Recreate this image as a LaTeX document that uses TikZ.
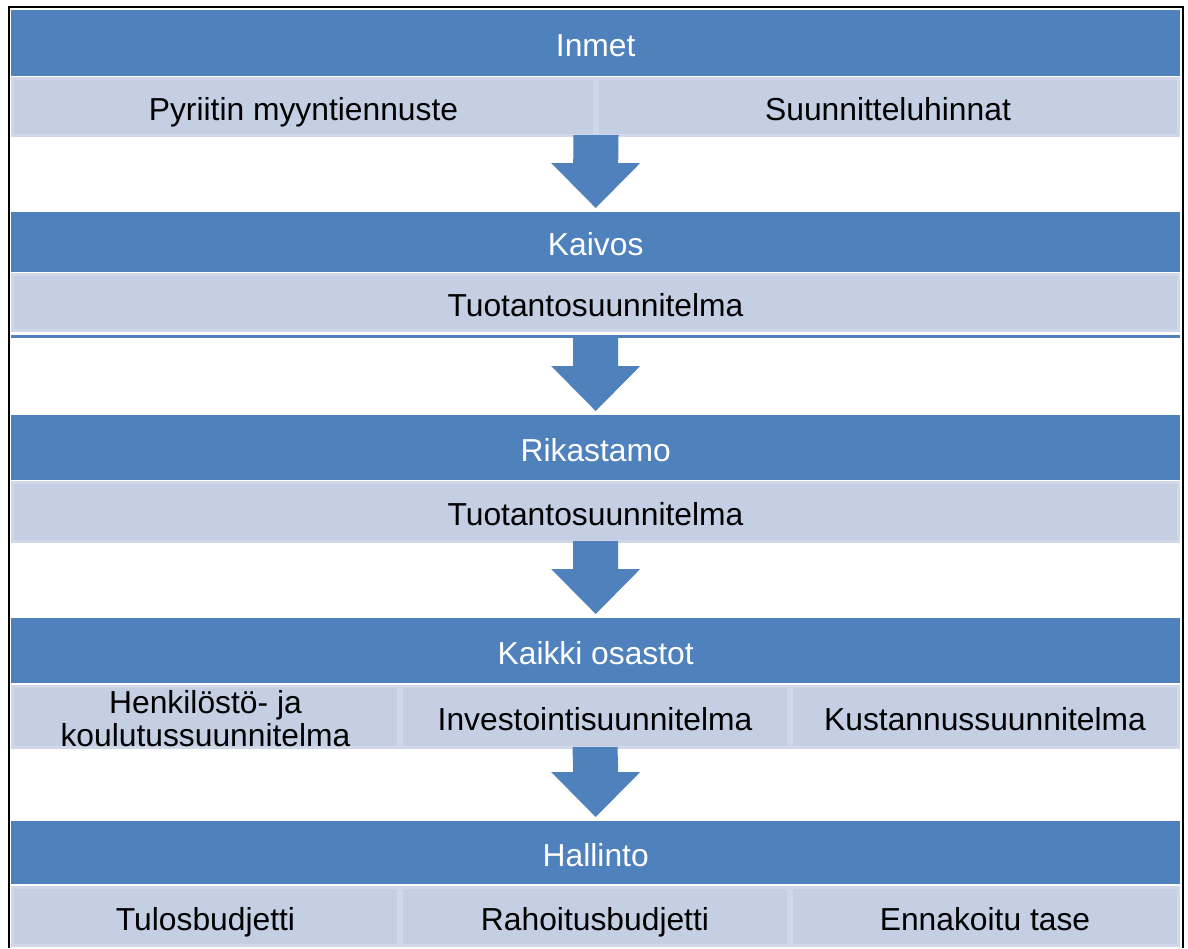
\documentclass[tikz,border=0pt]{standalone}
\usepackage{fontspec}
\setmainfont{Liberation Sans}
\usetikzlibrary{calc}
\definecolor{bandblue}{HTML}{4F81BD}
\definecolor{cellfill}{HTML}{C4CFE3}
\definecolor{cellline}{HTML}{CFD7E8}
% block arrow from a source point down to the top of a target band
\newcommand\flowarrow[2]{%
  \fill[bandblue] ($(#1)+(-22.5,-2)$) -- ($(#2.north)+(-22.5,-49)$)
    -- ($(#2.north)+(-44.5,-49)$) -- ($(#2.north)+(0,-4)$)
    -- ($(#2.north)+(44.5,-49)$) -- ($(#2.north)+(22.5,-49)$)
    -- ($(#1)+(22.5,-2)$) -- cycle;}
\begin{document}
\begin{tikzpicture}[x=1pt,y=-1pt,
  txt/.style={font=\fontsize{31.8}{33}\selectfont, text height=28pt, text depth=1pt},
  band/.style={txt, fill=bandblue, text=white, inner sep=0pt, anchor=north west,
    minimum width=1169pt},
  cell/.style={txt, fill=cellfill, draw=cellline, line width=3pt, inner sep=0pt,
    align=center, text=black}]
\useasboundingbox (0,0) rectangle (1188,948);
\fill[white] (0,0) rectangle (1188,948);

% stage 1
\node[band, minimum height=66pt] (b1) at (11,10) {Inmet};
\node[cell, minimum width=582pt, minimum height=57pt] (l1a) at (303.5,107) {Pyriitin myyntiennuste};
\node[cell, minimum width=581pt, minimum height=57pt] (l1b) at (888,107) {Suunnitteluhinnat};

% stage 2
\node[band, minimum height=60pt] (b2) at (11,212) {Kaivos};
\node[cell, minimum width=1166pt, minimum height=56pt] (l2) at (595.5,302.5) {Tuotantosuunnitelma};
\fill[bandblue] (11,335) rectangle (1180,338);

% stage 3
\node[band, minimum height=65pt] (b3) at (11,415) {Rikastamo};
\node[cell, minimum width=1166pt, minimum height=59pt] (l3) at (595.5,512) {Tuotantosuunnitelma};

% stage 4
\node[band, minimum height=65pt] (b4) at (11,618) {Kaikki osastot};
\node[cell, minimum width=386pt, minimum height=61pt, text height=59pt] (l4a) at (205.5,717) {Henkilöstö- ja\\koulutussuunnitelma};
\node[cell, minimum width=387pt, minimum height=61pt] (l4b) at (595,717) {Investointisuunnitelma};
\node[cell, minimum width=387pt, minimum height=61pt] (l4c) at (985,717) {Kustannussuunnitelma};

% stage 5
\node[band, minimum height=63pt] (b5) at (11,821) {Hallinto};
\node[cell, minimum width=386pt, minimum height=58pt] (l5a) at (205.5,916.5) {Tulosbudjetti};
\node[cell, minimum width=387pt, minimum height=58pt] (l5b) at (595,916.5) {Rahoitusbudjetti};
\node[cell, minimum width=387pt, minimum height=58pt] (l5c) at (985,916.5) {Ennakoitu tase};

% flow arrows
\coordinate (s1) at ($(l1a.south east)!0.5!(l1b.south west)$);
\coordinate (s2) at ($(l2.south)+(0,8)$);
\coordinate (s3) at (l3.south);
\coordinate (s4) at (l4b.south);
\flowarrow{s1}{b2}
\flowarrow{s2}{b3}
\flowarrow{s3}{b4}
\flowarrow{s4}{b5}

% frame
\draw[line width=2.2pt] (8.7,948) -- (8.7,6.8) -- (1183,6.8) -- (1183,948);
\end{tikzpicture}
\end{document}
